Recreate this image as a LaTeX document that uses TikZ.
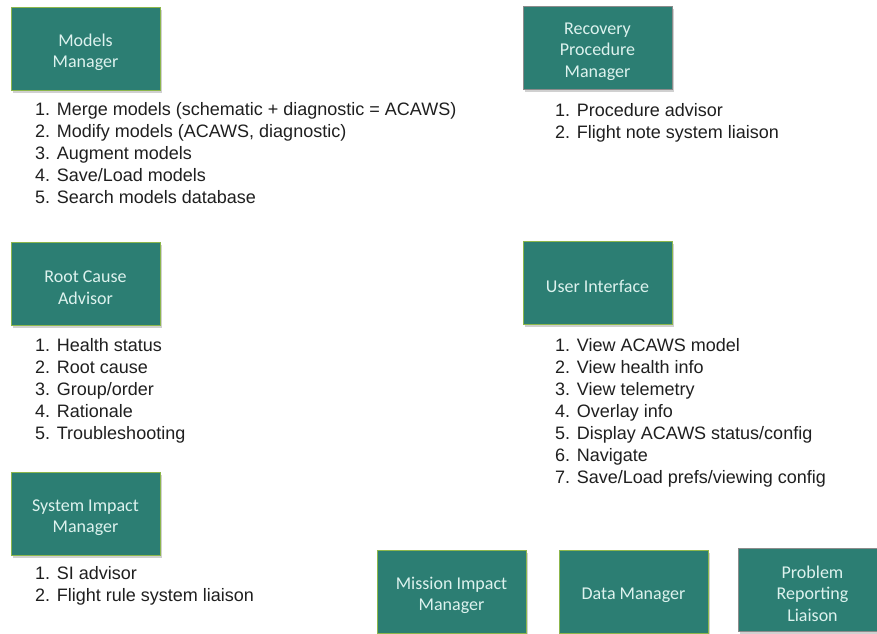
\documentclass[tikz,border=0pt]{standalone}
\usepackage{fontspec}
\setmainfont{Liberation Sans}
\newfontfamily\boxfont{Carlito}
\usetikzlibrary{shadows}
\definecolor{boxfill}{HTML}{2C7E73}
\definecolor{greenedge}{HTML}{8CB64C}
\definecolor{grayedge}{HTML}{8C8C8C}
\definecolor{boxtext}{HTML}{DDF2EE}
\begin{document}
\begin{tikzpicture}[x=1pt,y=-1pt,
  compbox/.style={draw=greenedge, line width=1pt, fill=boxfill, minimum width=149pt, minimum height=83pt,
    inner sep=0pt,
    drop shadow={shadow xshift=2pt, shadow yshift=-3pt, opacity=0.3, fill=black!60}},
  graybox/.style={compbox, draw=grayedge},
  boxlabel/.style={align=center, text=boxtext, inner sep=0pt, yshift=-4pt,
    font=\boxfont\fontsize{18}{21.5}\selectfont},
  item/.style={anchor=base west, inner sep=0pt, font=\fontsize{18}{21}\selectfont, text=black!88}]
\useasboundingbox (0,0) rectangle (877,633);
\clip (0,0) rectangle (877,633);
\fill[white] (0,0) rectangle (877,633);

\node[compbox, label={[boxlabel]center:{Models\\Manager}}] (mm) at (85.5,48.5) {};
\node[graybox, label={[boxlabel]center:{Recovery\\Procedure\\Manager}}] (rpm) at (597.5,47.5) {};
\node[compbox, label={[boxlabel]center:{Root Cause\\Advisor}}] (rca) at (85.5,283.5) {};
\node[compbox, label={[boxlabel]center:{User Interface}}] (ui) at (597.5,282.5) {};
\node[compbox, label={[boxlabel]center:{System Impact\\Manager}}] (sim) at (85.5,513.5) {};
\node[compbox, label={[boxlabel]center:{Mission Impact\\Manager}}] (mim) at (451.5,591.5) {};
\node[compbox, label={[boxlabel]center:{Data Manager}}] (dm) at (633.5,591.5) {};
\node[graybox, label={[boxlabel]center:{Problem\\Reporting\\Liaison}}] (prl) at (812.5,589.5) {};

% Models Manager list
\foreach \t [count=\i] in {{1. Merge models (schematic + diagnostic = ACAWS)},{2. Modify models (ACAWS, diagnostic)},{3. Augment models},{4. Save/Load models},{5. Search models database}}
  \node[item] (mml\i) at (35,{115+22*(\i-1)}) {\t};

% Recovery list
\foreach \t [count=\i] in {{1. Procedure advisor},{2. Flight note system liaison}}
  \node[item] (rpl\i) at (555,{116.5+21.5*(\i-1)}) {\t};

% Root cause list
\foreach \t [count=\i] in {{1. Health status},{2. Root cause},{3. Group/order},{4. Rationale},{5. Troubleshooting}}
  \node[item] (rcl\i) at (35,{351+22*(\i-1)}) {\t};

% UI list
\foreach \t [count=\i] in {{1. View ACAWS model},{2. View health info},{3. View telemetry},{4. Overlay info},{5. Display ACAWS status/config},{6. Navigate},{7. Save/Load prefs/viewing config}}
  \node[item] (uil\i) at (555,{351+22*(\i-1)}) {\t};

% SI list
\foreach \t [count=\i] in {{1. SI advisor},{2. Flight rule system liaison}}
  \node[item] (sil\i) at (35,{579.5+22*(\i-1)}) {\t};
\end{tikzpicture}
\end{document}
